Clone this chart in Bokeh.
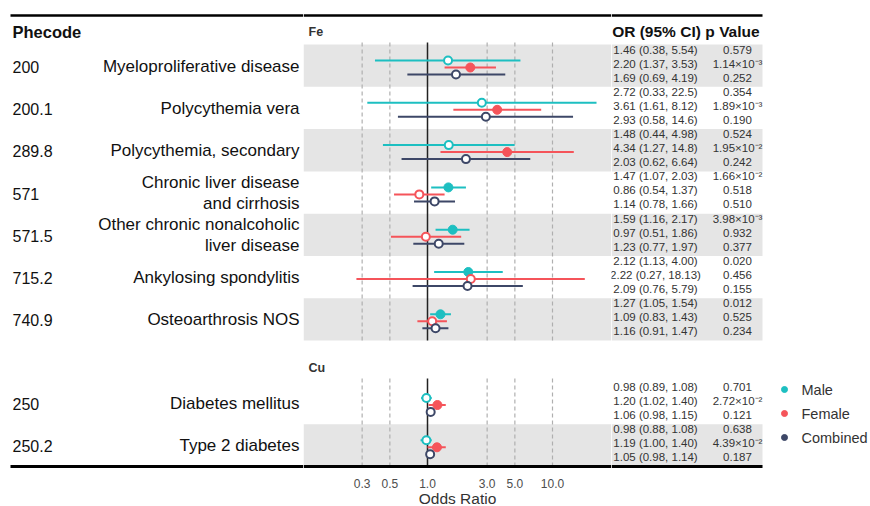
import numpy as np
from bokeh.plotting import figure
from bokeh.layouts import row
from bokeh.models import Range1d, FixedTicker, CustomJSTickFormatter
from bokeh.core.properties import value
from bokeh.embed import file_html
from bokeh.resources import INLINE

# ---------------- data ----------------
groups = ["Fe", "Fe", "Fe", "Fe", "Fe", "Fe", "Fe", "Cu", "Cu"]
phecodes = ["200", "200.1", "289.8", "571", "571.5", "715.2", "740.9", "250", "250.2"]
names = ["Myeloproliferative disease", "Polycythemia vera", "Polycythemia, secondary",
         "Chronic liver disease\nand cirrhosis", "Other chronic nonalcoholic\nliver disease",
         "Ankylosing spondylitis", "Osteoarthrosis NOS", "Diabetes mellitus", "Type 2 diabetes"]

male_or = [1.46, 2.72, 1.48, 1.47, 1.59, 2.12, 1.27, 0.98, 0.98]
male_lo = [0.38, 0.33, 0.44, 1.07, 1.16, 1.13, 1.05, 0.89, 0.88]
male_hi = [5.54, 22.5, 4.98, 2.03, 2.17, 4.00, 1.54, 1.08, 1.08]
male_p = [0.579, 0.354, 0.524, 0.0166, 0.00398, 0.020, 0.012, 0.701, 0.638]
male_ci_text = ["1.46 (0.38, 5.54)", "2.72 (0.33, 22.5)", "1.48 (0.44, 4.98)", "1.47 (1.07, 2.03)",
                "1.59 (1.16, 2.17)", "2.12 (1.13, 4.00)", "1.27 (1.05, 1.54)", "0.98 (0.89, 1.08)",
                "0.98 (0.88, 1.08)"]
male_p_text = ["0.579", "0.354", "0.524", "1.66×10⁻²", "3.98×10⁻³", "0.020", "0.012", "0.701", "0.638"]

female_or = [2.20, 3.61, 4.34, 0.86, 0.97, 2.22, 1.09, 1.20, 1.19]
female_lo = [1.37, 1.61, 1.27, 0.54, 0.51, 0.27, 0.83, 1.02, 1.00]
female_hi = [3.53, 8.12, 14.8, 1.37, 1.86, 18.13, 1.43, 1.40, 1.40]
female_p = [0.00114, 0.00189, 0.0195, 0.518, 0.932, 0.456, 0.525, 0.0272, 0.0439]
female_ci_text = ["2.20 (1.37, 3.53)", "3.61 (1.61, 8.12)", "4.34 (1.27, 14.8)", "0.86 (0.54, 1.37)",
                  "0.97 (0.51, 1.86)", "2.22 (0.27, 18.13)", "1.09 (0.83, 1.43)", "1.20 (1.02, 1.40)",
                  "1.19 (1.00, 1.40)"]
female_p_text = ["1.14×10⁻³", "1.89×10⁻³", "1.95×10⁻²", "0.518", "0.932", "0.456", "0.525",
                 "2.72×10⁻²", "4.39×10⁻²"]

comb_or = [1.69, 2.93, 2.03, 1.14, 1.23, 2.09, 1.16, 1.06, 1.05]
comb_lo = [0.69, 0.58, 0.62, 0.78, 0.77, 0.76, 0.91, 0.98, 0.98]
comb_hi = [4.19, 14.6, 6.64, 1.66, 1.97, 5.79, 1.47, 1.15, 1.14]
comb_p = [0.252, 0.190, 0.242, 0.510, 0.377, 0.155, 0.234, 0.121, 0.187]
comb_ci_text = ["1.69 (0.69, 4.19)", "2.93 (0.58, 14.6)", "2.03 (0.62, 6.64)", "1.14 (0.78, 1.66)",
                "1.23 (0.77, 1.97)", "2.09 (0.76, 5.79)", "1.16 (0.91, 1.47)", "1.06 (0.98, 1.15)",
                "1.05 (0.98, 1.14)"]
comb_p_text = ["0.252", "0.190", "0.242", "0.510", "0.377", "0.155", "0.234", "0.121", "0.187"]

series_names = ["Male", "Female", "Combined"]
tick_values = [0.3, 0.5, 1.0, 3.0, 5.0, 10.0]

# ---------------- style / layout ----------------
FONT = "Liberation Sans"
colors = {"Male": "#1DBFC1", "Female": "#F5545A", "Combined": "#3D4767"}
BAND = "#E5E5E5"
FRAME_H = 468
LEFT_W, MID_W, RIGHT_W = 303, 308, 259
ROW_H = 42.3
GROUP_TOP = {"Fe": 44.0, "Cu": 381.5}
PANEL_LINE_TOP = {"Fe": 42.0, "Cu": 378.0}
POINT_OFF = [16, 23, 30]
TEXT_OFF = [5, 19, 33]
PX_PER_DECADE = 125.0
ONE_POS = 124.0
X_LO = 10 ** (-ONE_POS / PX_PER_DECADE)
X_HI = 10 ** ((MID_W - ONE_POS) / PX_PER_DECADE)
TOP_LINE_Y, BOT_LINE_Y = 15.0, 466.0

series = {
    "Male": (male_or, male_lo, male_hi, male_p, male_ci_text, male_p_text),
    "Female": (female_or, female_lo, female_hi, female_p, female_ci_text, female_p_text),
    "Combined": (comb_or, comb_lo, comb_hi, comb_p, comb_ci_text, comb_p_text),
}

# row tops
row_top = []
counts = {}
for g in groups:
    k = counts.get(g, 0)
    row_top.append(GROUP_TOP[g] + k * ROW_H)
    counts[g] = k + 1
row_top = np.array(row_top)
shaded = [i % 2 == 0 for i in range(len(groups))]
band_top = [row_top[i] for i in range(len(groups)) if shaded[i]]
band_bot = [row_top[i] + ROW_H for i in range(len(groups)) if shaded[i]]


def base_fig(**kw):
    f = figure(output_backend="svg", toolbar_location=None, min_border=0,
               frame_height=FRAME_H, **kw)
    f.outline_line_color = None
    f.grid.visible = False
    return f


# ---------------- left labels ----------------
left = base_fig(frame_width=LEFT_W, x_range=Range1d(0, LEFT_W), y_range=Range1d(FRAME_H, 0),
                x_axis_location=None, y_axis_location=None)
centers = row_top + ROW_H / 2
left.text(x=[12], y=[31], text=["Phecode"], text_font=value(FONT), text_font_size="16.5px",
          text_font_style="bold", text_baseline="middle", text_color="#111111")
left.text(x=[12] * len(phecodes), y=centers + 1, text=phecodes, text_font=value(FONT),
          text_font_size="16px", text_baseline="middle", text_color="#111111")
left.text(x=[299] * len(names), y=centers + 0.5, text=names, text_font=value(FONT),
          text_font_size="17px", text_baseline="middle", text_align="right",
          text_color="#111111", text_line_height=1.12)
left.segment(x0=[10, 10], x1=[LEFT_W, LEFT_W], y0=[TOP_LINE_Y, BOT_LINE_Y], y1=[TOP_LINE_Y, BOT_LINE_Y],
             line_color="black", line_width=[2.5, 3])

# ---------------- middle forest ----------------
mid = base_fig(frame_width=MID_W, x_axis_type="log", x_range=Range1d(X_LO, X_HI),
               y_range=Range1d(FRAME_H, 0), y_axis_location=None)
mid.quad(left=X_LO, right=X_HI, top=band_top, bottom=band_bot, fill_color=BAND, line_color=None)

for g in ["Fe", "Cu"]:
    idx = [i for i, gg in enumerate(groups) if gg == g]
    ptop = PANEL_LINE_TOP[g]
    pbot = row_top[idx[-1]] + ROW_H if g == "Fe" else BOT_LINE_Y
    dashed = [t for t in tick_values if t != 1.0]
    mid.segment(x0=dashed, x1=dashed, y0=[ptop] * len(dashed), y1=[pbot] * len(dashed),
                line_color="#AFAFAF", line_width=1.2, line_dash="4 3")
    mid.segment(x0=[1.0], x1=[1.0], y0=[ptop], y1=[pbot], line_color="#222222", line_width=1.5)
    mid.text(x=[X_LO * 10 ** (5 / PX_PER_DECADE)], y=[ptop - 11], text=[g], text_font=value(FONT),
             text_font_size="12.5px", text_font_style="bold", text_baseline="middle",
             text_color="#333333")

for s_i, s in enumerate(series_names):
    orv, lo, hi, pv, _, _ = series[s]
    ys = row_top + POINT_OFF[s_i]
    c = colors[s]
    mid.segment(x0=lo, x1=hi, y0=ys, y1=ys, line_color=c, line_width=2)
    sig = [i for i in range(len(orv)) if pv[i] < 0.05]
    ns = [i for i in range(len(orv)) if pv[i] >= 0.05]
    if sig:
        mid.scatter(x=[orv[i] for i in sig], y=[ys[i] for i in sig], size=9,
                    fill_color=c, line_color=c, line_width=1)
    if ns:
        mid.scatter(x=[orv[i] for i in ns], y=[ys[i] for i in ns], size=8,
                    fill_color="white", line_color=c, line_width=2)

mid.segment(x0=[X_LO, X_LO], x1=[X_HI, X_HI], y0=[TOP_LINE_Y, BOT_LINE_Y], y1=[TOP_LINE_Y, BOT_LINE_Y],
            line_color="black", line_width=[2.5, 3])

ax = mid.xaxis[0]
ax.ticker = FixedTicker(ticks=tick_values)
ax.formatter = CustomJSTickFormatter(code="return tick.toFixed(1);")
ax.axis_line_color = None
ax.major_tick_line_color = None
ax.minor_tick_line_color = None
ax.major_label_text_font = FONT
ax.major_label_text_font_size = "12px"
ax.major_label_text_color = "#4D4D4D"
ax.major_label_standoff = 4
ax.axis_label = "Odds Ratio"
ax.axis_label_text_font = FONT
ax.axis_label_text_font_size = "15.5px"
ax.axis_label_text_font_style = "normal"
ax.axis_label_text_color = "#333333"
ax.axis_label_standoff = -1

# ---------------- right table + legend ----------------
right = base_fig(frame_width=RIGHT_W, x_range=Range1d(0, RIGHT_W), y_range=Range1d(FRAME_H, 0),
                 x_axis_location=None, y_axis_location=None)
TABLE_R = 151
right.quad(left=0, right=TABLE_R, top=band_top, bottom=band_bot, fill_color=BAND, line_color=None)
right.text(x=[45, 121], y=[31, 31], text=["OR (95% CI)", "p Value"], text_font=value(FONT),
           text_font_size="15.5px", text_font_style="bold", text_align="center",
           text_baseline="middle", text_color="#111111")
for s_i, s in enumerate(series_names):
    _, _, _, _, ci_t, p_t = series[s]
    ys = row_top + TEXT_OFF[s_i]
    right.text(x=[44] * len(ci_t), y=ys, text=ci_t, text_font=value(FONT), text_font_size="11.5px",
               text_align="center", text_baseline="middle", text_color="#333333")
    right.text(x=[126] * len(p_t), y=ys, text=p_t, text_font=value(FONT), text_font_size="11.5px",
               text_align="center", text_baseline="middle", text_color="#333333")
right.segment(x0=[0, 0], x1=[TABLE_R, TABLE_R], y0=[TOP_LINE_Y, BOT_LINE_Y], y1=[TOP_LINE_Y, BOT_LINE_Y],
              line_color="black", line_width=[2.5, 3])

# legend (key glyphs + labels)
LEG_X, LEG_Y0, LEG_DY, LEG_TX = 173, 389, 24, 190
leg_y = [LEG_Y0 + i * LEG_DY for i in range(len(series_names))]
right.scatter(x=[LEG_X] * len(series_names), y=leg_y, size=6,
              fill_color=[colors[s] for s in series_names], line_color=[colors[s] for s in series_names])
right.text(x=[LEG_TX] * len(series_names), y=leg_y, text=series_names, text_font=value(FONT),
           text_font_size="14.5px", text_baseline="middle", text_color="#333333")

layout = row(left, mid, right, spacing=0)
open("out.html", "w").write(file_html(layout, INLINE))
